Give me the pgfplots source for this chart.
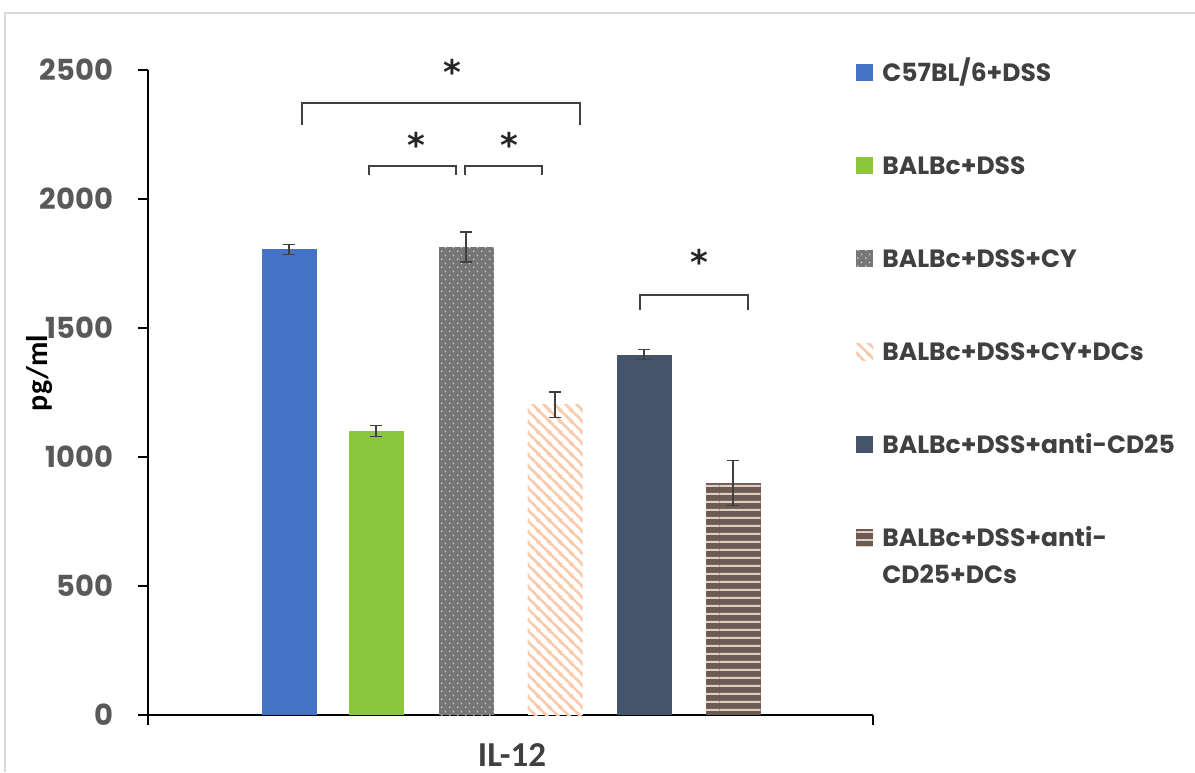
\documentclass[border=0pt]{standalone}
\usepackage{fontspec}
\usepackage{pgfplots}
\pgfplotsset{compat=1.18}
\usetikzlibrary{patterns}
\newfontfamily\pop{Poppins}
\newfontfamily\carl{Carlito}
\newfontfamily\dejab{DejaVu Sans}
\definecolor{cblue}{HTML}{4472C4}
\definecolor{cgreen}{HTML}{8CC63F}
\definecolor{cgray}{HTML}{767676}
\definecolor{cpeach}{HTML}{F8CBAD}
\definecolor{cnavy}{HTML}{44546A}
\definecolor{cbrown}{HTML}{6B5B53}
\definecolor{cstripe}{HTML}{E2CDBF}
\definecolor{ctxt}{HTML}{404040}
\definecolor{ctick}{HTML}{595959}
\definecolor{cframe}{HTML}{D9D9D9}

\pgfdeclarepatternformonly{sdots}{\pgfqpoint{0pt}{0pt}}{\pgfqpoint{4pt}{4pt}}{\pgfqpoint{4pt}{4pt}}{%
  \pgfpathcircle{\pgfqpoint{1pt}{1pt}}{0.45pt}%
  \pgfpathcircle{\pgfqpoint{3pt}{3pt}}{0.45pt}%
  \pgfusepath{fill}}
\pgfdeclarepatternformonly{dstripes}{\pgfqpoint{0pt}{0pt}}{\pgfqpoint{5.5pt}{5.5pt}}{\pgfqpoint{5.5pt}{5.5pt}}{%
  \pgfsetlinewidth{1.4pt}%
  \pgfpathmoveto{\pgfqpoint{-0.5pt}{6pt}}\pgfpathlineto{\pgfqpoint{6pt}{-0.5pt}}%
  \pgfpathmoveto{\pgfqpoint{-1.5pt}{1.5pt}}\pgfpathlineto{\pgfqpoint{1.5pt}{-1.5pt}}%
  \pgfpathmoveto{\pgfqpoint{4pt}{7pt}}\pgfpathlineto{\pgfqpoint{7pt}{4pt}}%
  \pgfusepath{stroke}}
\pgfdeclarepatternformonly{hstripes}{\pgfqpoint{0pt}{0pt}}{\pgfqpoint{40pt}{3.85pt}}{\pgfqpoint{40pt}{3.85pt}}{%
  \pgfpathrectangle{\pgfqpoint{0pt}{0pt}}{\pgfqpoint{40pt}{1.1pt}}%
  \pgfusepath{fill}}

\pgfplotsset{
  mybar/.style={ybar, bar width=55, bar shift=0pt, draw=none,
    legend image code/.code={\fill[##1] (0pt,0pt) rectangle (8.5pt,8.5pt);},
    error bars/y dir=both, error bars/y explicit,
    error bars/error bar style={ctxt, line width=0.6pt},
    error bars/error mark options={ctxt, line width=0.6pt, mark size=3pt, rotate=90}},
}

\begin{document}
\begin{tikzpicture}[x=1pt,y=1pt]
\path[use as bounding box] (0,0) rectangle (597.5,-386);
\draw[cframe, line width=1pt] (2.5,-386) -- (2.5,-6.5) -- (597.5,-6.5);
\begin{axis}[
  at={(74pt,-357.5pt)}, anchor=south west,
  scale only axis, width=362.5pt, height=322.5pt,
  xmin=148, xmax=873, ymin=0, ymax=2500,
  clip=false,
  axis lines=left, axis line style={black, line width=0.7pt, -},
  tick align=outside, major tick length=5pt,
  tick style={black, line width=0.7pt},
  ytick={0,500,1000,1500,2000,2500},
  xtick={148,873}, xticklabels={},
  extra x ticks={512}, extra x tick labels={IL-12},
  extra x tick style={major tick length=0pt,
    tick label style={font=\carl\bfseries\fontsize{17.5}{17.5}\selectfont, text=ctxt, yshift=-10.6pt}},
  yticklabel style={font=\pop\bfseries\fontsize{14.5}{14.5}\selectfont, text=ctick, xshift=-9pt},
  /pgf/number format/1000 sep={},
  /pgf/number format/assume math mode=true,
  ylabel={pg/ml},
  ylabel style={font=\carl\bfseries\fontsize{15}{15}\selectfont, text=black,
    at={(axis description cs:-0.149,0.53)}, anchor=center},
  legend style={at={(axis description cs:0.97655,1.01085)}, anchor=north west,
    draw=none, fill=none, inner sep=0pt, row sep=34.5pt, column sep=4.5pt,
    font=\pop\bfseries\fontsize{12.5}{12.5}\selectfont, text=ctxt,
    nodes={inner sep=0pt, text height=9pt, text depth=3pt},
    cells={anchor=base west}},
]
\addplot[mybar, fill=cblue] coordinates {(289,1805) +- (0,20)};
\addlegendentry{C57BL/6+DSS}
\addplot[mybar, fill=cgreen] coordinates {(376,1100) +- (0,22)};
\addlegendentry{BALBc+DSS}
\addplot[mybar, fill=cgray, postaction={pattern=sdots, pattern color=white!80!cgray}] coordinates {(466,1814) +- (0,58)};
\addlegendentry{BALBc+DSS+CY}
\addplot[mybar, fill=white, postaction={pattern=dstripes, pattern color=cpeach}] coordinates {(555,1202) +- (0,50)};
\addlegendentry{BALBc+DSS+CY+DCs}
\addplot[mybar, fill=cnavy] coordinates {(644,1397) +- (0,20)};
\addlegendentry{BALBc+DSS+anti-CD25}
\addplot[mybar, fill=cbrown, postaction={pattern=hstripes, pattern color=cstripe}] coordinates {(733,899) +- (0,87)};
\addlegendentry{\rlap{\raisebox{-18.5pt}[0pt][0pt]{CD25+DCs}}BALBc+DSS+anti-}

\draw[ctxt, line width=0.8pt] (axis cs:302,2287) -- (axis cs:302,2372) -- (axis cs:580,2372) -- (axis cs:580,2287);
\draw[ctxt, line width=0.8pt] (axis cs:369,2093) -- (axis cs:369,2128) -- (axis cs:456,2128) -- (axis cs:456,2093);
\draw[ctxt, line width=0.8pt] (axis cs:465,2093) -- (axis cs:465,2128) -- (axis cs:542,2128) -- (axis cs:542,2093);
\draw[ctxt, line width=0.8pt] (axis cs:640,1570) -- (axis cs:640,1628) -- (axis cs:748,1628) -- (axis cs:748,1570);
\node[font=\dejab\bfseries\fontsize{17}{17}\selectfont, anchor=center, text=black!85] at (axis cs:452,2492) {*};
\node[font=\dejab\bfseries\fontsize{17}{17}\selectfont, anchor=center, text=black!85] at (axis cs:416,2209) {*};
\node[font=\dejab\bfseries\fontsize{17}{17}\selectfont, anchor=center, text=black!85] at (axis cs:509,2209) {*};
\node[font=\dejab\bfseries\fontsize{17}{17}\selectfont, anchor=center, text=black!85] at (axis cs:699,1756) {*};
\end{axis}
\end{tikzpicture}
\end{document}
